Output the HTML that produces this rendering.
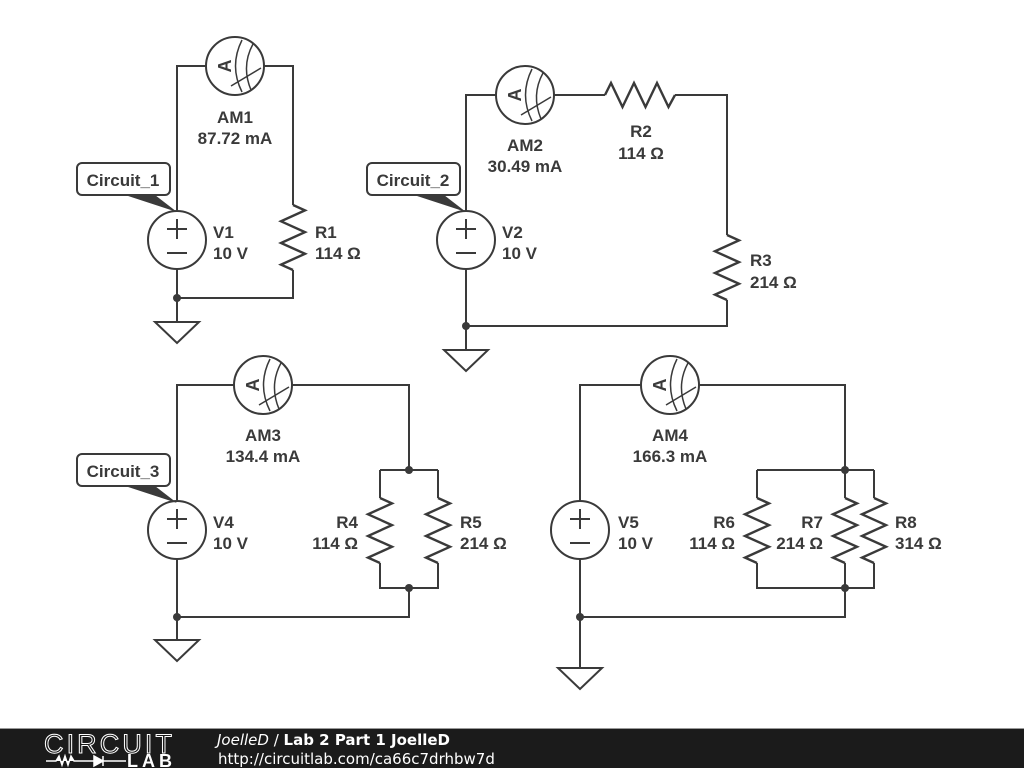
<!DOCTYPE html>
<html><head><meta charset="utf-8"><style>
body{margin:0;width:1024px;height:768px;overflow:hidden;background:#fff}
svg{display:block}
.w{stroke:#3a3a3a;stroke-width:2;fill:none}
.t{font-family:"Liberation Sans",sans-serif;font-weight:bold;font-size:17px;fill:#3a3a3a}
</style></head><body>
<svg width="1024" height="768" viewBox="0 0 1024 768">
<defs>
<g id="am"><circle r="29" fill="#fff" stroke="#3a3a3a" stroke-width="2"/>
<text x="-10" y="0" transform="rotate(-90 -10 0)" text-anchor="middle" dy="6" class="t" style="font-size:18px">A</text>
<path class="w" style="stroke-width:1.5" d="M7,-26 Q-6,0 7,26 M18,-22 Q6,0 16,24 M-4,20 L26,2"/></g>
<g id="src"><circle r="29" fill="#fff" stroke="#3a3a3a" stroke-width="2"/>
<path class="w" d="M-10,-11 H10 M0,-21 V-1 M-10,13 H10"/></g>
<g id="gnd"><path class="w" d="M-22,0 H22 L0,21 Z"/></g>
<path id="rv" class="w" style="stroke-width:2.4" d="M0,0 L12,5.4 L-12,16.3 L12,27.1 L-12,38 L12,48.8 L-12,59.6 L0,65"/>
<path id="rh" class="w" style="stroke-width:2.4" d="M0,0 L6,-12 L17.5,12 L29,-12 L40.5,12 L52,-12 L63.5,12 L70,0"/>
</defs>

<!-- circuit 1 -->
<path class="w" d="M177,298 V66 H293 V205 M293,270 V298 H177 V322"/>
<use href="#rv" x="293" y="205"/>
<use href="#am" x="235" y="66"/>
<use href="#src" x="177" y="240"/>
<circle cx="177" cy="298" r="4" fill="#3a3a3a"/>
<use href="#gnd" x="177" y="322"/>
<text class="t" x="235" y="123" text-anchor="middle">AM1</text>
<text class="t" x="235" y="144" text-anchor="middle">87.72 mA</text>
<text class="t" x="213" y="238">V1</text><text class="t" x="213" y="259">10 V</text>
<text class="t" x="315" y="238">R1</text><text class="t" x="315" y="259">114 Ω</text>
<path d="M125,195 L177,212 L155,195 Z" fill="#3a3a3a"/>
<rect x="77" y="163" width="93" height="32" rx="5" fill="#fff" stroke="#3a3a3a" stroke-width="2"/>
<text class="t" x="123" y="186" text-anchor="middle">Circuit_1</text>

<!-- circuit 2 -->
<path class="w" d="M466,326 V95 H605 M675,95 H727 V235 M727,300 V326 H466 V350"/>
<use href="#rh" x="605" y="95"/>
<use href="#rv" x="727" y="235"/>
<use href="#am" x="525" y="95"/>
<use href="#src" x="466" y="240"/>
<circle cx="466" cy="326" r="4" fill="#3a3a3a"/>
<use href="#gnd" x="466" y="350"/>
<text class="t" x="525" y="151" text-anchor="middle">AM2</text>
<text class="t" x="525" y="172" text-anchor="middle">30.49 mA</text>
<text class="t" x="641" y="137" text-anchor="middle">R2</text><text class="t" x="641" y="159" text-anchor="middle">114 Ω</text>
<text class="t" x="502" y="238">V2</text><text class="t" x="502" y="259">10 V</text>
<text class="t" x="750" y="266">R3</text><text class="t" x="750" y="288">214 Ω</text>
<path d="M414,195 L466,212 L444,195 Z" fill="#3a3a3a"/>
<rect x="367" y="163" width="93" height="32" rx="5" fill="#fff" stroke="#3a3a3a" stroke-width="2"/>
<text class="t" x="413" y="186" text-anchor="middle">Circuit_2</text>

<!-- circuit 3 -->
<path class="w" d="M177,617 V385 H409 V470 M380,470 H438 M380,470 V498 M438,470 V498 M380,563 V588 H438 V563 M409,588 V617 H177 V640"/>
<use href="#rv" x="380" y="498"/>
<use href="#rv" x="438" y="498"/>
<use href="#am" x="263" y="385"/>
<use href="#src" x="177" y="530"/>
<circle cx="409" cy="470" r="4" fill="#3a3a3a"/>
<circle cx="409" cy="588" r="4" fill="#3a3a3a"/>
<circle cx="177" cy="617" r="4" fill="#3a3a3a"/>
<use href="#gnd" x="177" y="640"/>
<text class="t" x="263" y="441" text-anchor="middle">AM3</text>
<text class="t" x="263" y="462" text-anchor="middle">134.4 mA</text>
<text class="t" x="213" y="528">V4</text><text class="t" x="213" y="549">10 V</text>
<text class="t" x="358" y="528" text-anchor="end">R4</text><text class="t" x="358" y="549" text-anchor="end">114 Ω</text>
<text class="t" x="460" y="528">R5</text><text class="t" x="460" y="549">214 Ω</text>
<path d="M125,486 L177,503 L155,486 Z" fill="#3a3a3a"/>
<rect x="77" y="454" width="93" height="32" rx="5" fill="#fff" stroke="#3a3a3a" stroke-width="2"/>
<text class="t" x="123" y="477" text-anchor="middle">Circuit_3</text>

<!-- circuit 4 -->
<path class="w" d="M580,668 V385 H845 V470 M757,470 H874 M757,470 V498 M845,470 V498 M874,470 V498 M757,563 V588 H874 V563 M845,563 V588 M845,588 V617 H580"/>
<use href="#rv" x="757" y="498"/>
<use href="#rv" x="845" y="498"/>
<use href="#rv" x="874" y="498"/>
<use href="#am" x="670" y="385"/>
<use href="#src" x="580" y="530"/>
<circle cx="845" cy="470" r="4" fill="#3a3a3a"/>
<circle cx="845" cy="588" r="4" fill="#3a3a3a"/>
<circle cx="580" cy="617" r="4" fill="#3a3a3a"/>
<use href="#gnd" x="580" y="668"/>
<text class="t" x="670" y="441" text-anchor="middle">AM4</text>
<text class="t" x="670" y="462" text-anchor="middle">166.3 mA</text>
<text class="t" x="618" y="528">V5</text><text class="t" x="618" y="549">10 V</text>
<text class="t" x="735" y="528" text-anchor="end">R6</text><text class="t" x="735" y="549" text-anchor="end">114 Ω</text>
<text class="t" x="823" y="528" text-anchor="end">R7</text><text class="t" x="823" y="549" text-anchor="end">214 Ω</text>
<text class="t" x="895" y="528">R8</text><text class="t" x="895" y="549">314 Ω</text>

<!-- footer -->
<rect x="0" y="729" width="1024" height="39" fill="#1b1b1b"/>
<rect x="0" y="728" width="1024" height="1" fill="#999"/>
<text x="44" y="753" style="font-family:'Liberation Sans',sans-serif;font-size:27px;fill:none;stroke:#fff;stroke-width:1" textLength="128">CIRCUIT</text>
<path d="M46,761 H56 L59,756 L62,765 L65,756 L68,765 L71,756 L74,761 H94 M94,756 V766 L103,761 Z M103,756 V766 M103,761 H126" stroke="#fff" stroke-width="1.5" fill="#fff"/>
<text x="127" y="767" style="font-family:'Liberation Sans',sans-serif;font-weight:bold;font-size:18px;fill:#fff" textLength="45">LAB</text>
<text x="217" y="745" style="font-family:'DejaVu Sans',sans-serif;font-size:15px;fill:#fff"><tspan font-style="italic">JoelleD</tspan> / <tspan font-weight="bold">Lab 2 Part 1 JoelleD</tspan></text>
<text x="218" y="764" style="font-family:'DejaVu Sans',sans-serif;font-size:15px;fill:#fff">http://circuitlab.com/ca66c7drhbw7d</text>
</svg>
</body></html>
